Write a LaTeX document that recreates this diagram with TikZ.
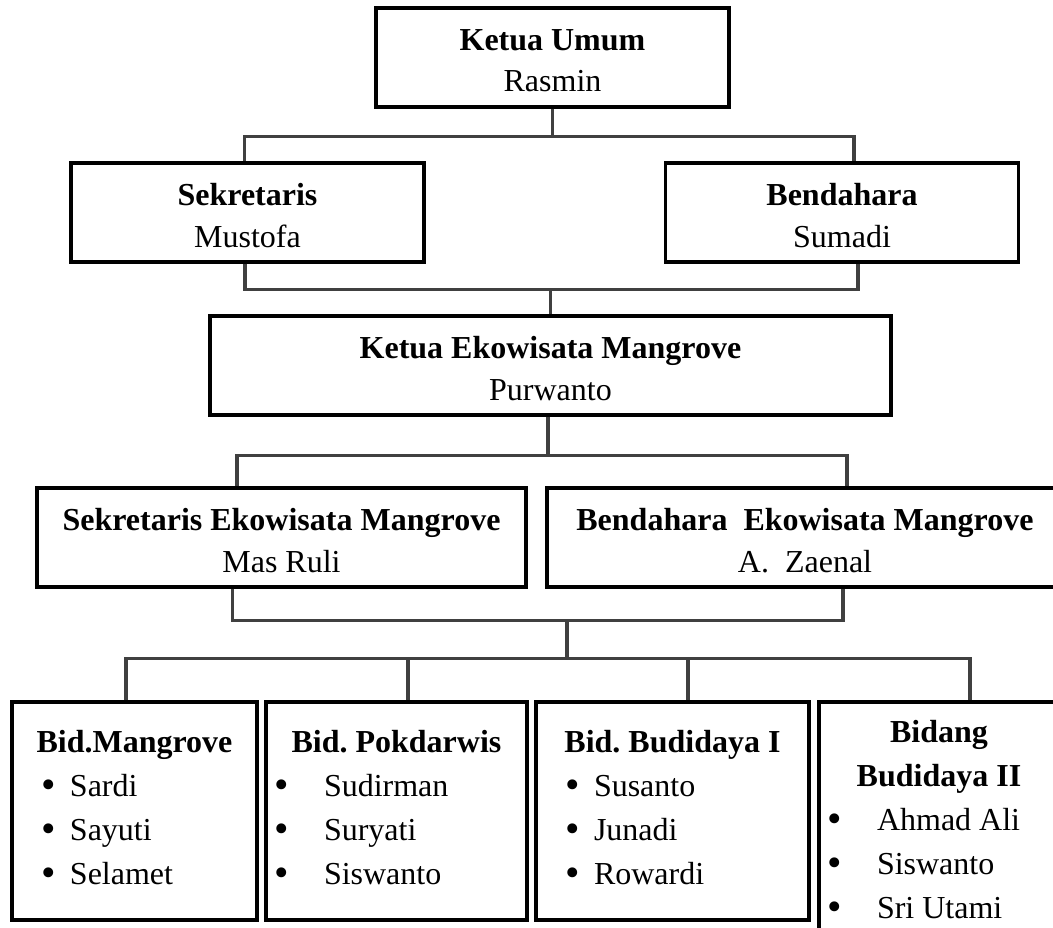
\documentclass[tikz,border=0pt]{standalone}
\usepackage{fontspec}
\setmainfont{Liberation Serif}
\newcommand{\butir}[2]{\makebox[43.5pt][l]{\hspace*{#1}\raisebox{-1.5pt}{\fontsize{31pt}{33pt}\selectfont\textbullet}}#2}

\begin{document}
\begin{tikzpicture}[x=0.75pt, y=-0.75pt,
    jabatan/.style={rectangle, draw, line width=2.8pt, inner sep=0pt, align=flush center,
        text width=#1, text height=31.5pt, text depth=42.75pt,
        font=\fontsize{24pt}{31.5pt}\selectfont\frenchspacing},
    bidang/.style={rectangle, draw, line width=2.8pt, inner sep=0pt, align=flush left,
        text width=#1, text height=37.5pt, text depth=126pt,
        font=\fontsize{24pt}{33pt}\selectfont\frenchspacing},
    garis/.style={line width=2.3pt, draw=black!75}]
    \useasboundingbox (0,0) rectangle (1053,928);
    \clip (0,0) rectangle (1053,928);

    % Nodes
    \node (ketua) [jabatan=264.75pt] at (552.5, 57.5) {\textbf{Ketua Umum}\\Rasmin};
    \node (sekr) [jabatan=264.75pt] at (247.5, 212.5) {\textbf{Sekretaris}\\Mustofa};
    \node (bend) [jabatan=264.75pt] at (842, 212.5) {\textbf{Bendahara}\\Sumadi};
    \node (ketuaeko) [jabatan=510.75pt] at (550.5, 365.5) {\textbf{Ketua Ekowisata Mangrove}\\Purwanto};
    \node (sekreko) [jabatan=366.75pt] at (281.5, 537.5) {\textbf{Sekretaris Ekowisata Mangrove}\\Mas Ruli};
    \node (bendeko) [jabatan=387pt] at (805, 537.5) {\textbf{Bendahara~ Ekowisata Mangrove}\\A.~ Zaenal};

    \node (bid1) [bidang=183.75pt] at (134.5, 811) {\makebox[\linewidth]{\textbf{Bid.Mangrove}}\\
        \butir{22.5pt}{Sardi}\\ \butir{22.5pt}{Sayuti}\\ \butir{22.5pt}{Selamet}};
    \node (bid2) [bidang=195.75pt] at (396.5, 811) {\makebox[\linewidth]{\textbf{Bid. Pokdarwis}}\\
        \butir{6.5pt}{Sudirman}\\ \butir{6.5pt}{Suryati}\\ \butir{6.5pt}{Siswanto}};
    \node (bid3) [bidang=204.75pt] at (672.5, 811) {\makebox[\linewidth]{\textbf{Bid. Budidaya I}}\\
        \butir{21.75pt}{Susanto}\\ \butir{21.75pt}{Junadi}\\ \butir{21.75pt}{Rowardi}};
    \node (bid4) [bidang=180pt, text height=30pt, text depth=186pt] at (939, 846)
        {\makebox[\linewidth]{\textbf{Bidang}}\\ \makebox[\linewidth]{\textbf{Budidaya II}}\\
        \butir{6.5pt}{Ahmad Ali}\\ \butir{6.5pt}{Siswanto}\\ \butir{6.5pt}{Sri Utami}};

    % Edges
    \draw[garis] (ketua.south) -- ++(0,27.4) -| ([xshift=-2.6pt]sekr.north);
    \draw[garis] (ketua.south) -- ++(0,27.4) -| ([xshift=9pt]bend.north);

    \draw[garis] ([xshift=-1.9pt]sekr.south) -- ++(0,25.4) -| ([xshift=12pt]bend.south);
    \draw[garis] (ketuaeko.north) -- ++(0,-25.4);

    \draw[garis] ([xshift=-1.9pt]ketuaeko.south) -- ++(0,38.4) -| ([xshift=-33.4pt]sekreko.north);
    \draw[garis] ([xshift=-1.9pt]ketuaeko.south) -- ++(0,38.4) -| ([xshift=31.5pt]bendeko.north);

    \draw[garis] ([xshift=-37.1pt]sekreko.south) -- ++(0,31.4) -| ([xshift=28.5pt]bendeko.south);
    \coordinate (tengah) at (567, 620);
    \draw[garis] (tengah) -- ++(0,39);

    \draw[garis] ([xshift=-6.4pt]bid1.north) -- ++(0,-41.4) -| ([xshift=23.25pt]bid4.north);
    \draw[garis] ([xshift=8.6pt]bid2.north) -- ++(0,-41.4);
    \draw[garis] ([xshift=11.6pt]bid3.north) -- ++(0,-41.4);

\end{tikzpicture}
\end{document}
